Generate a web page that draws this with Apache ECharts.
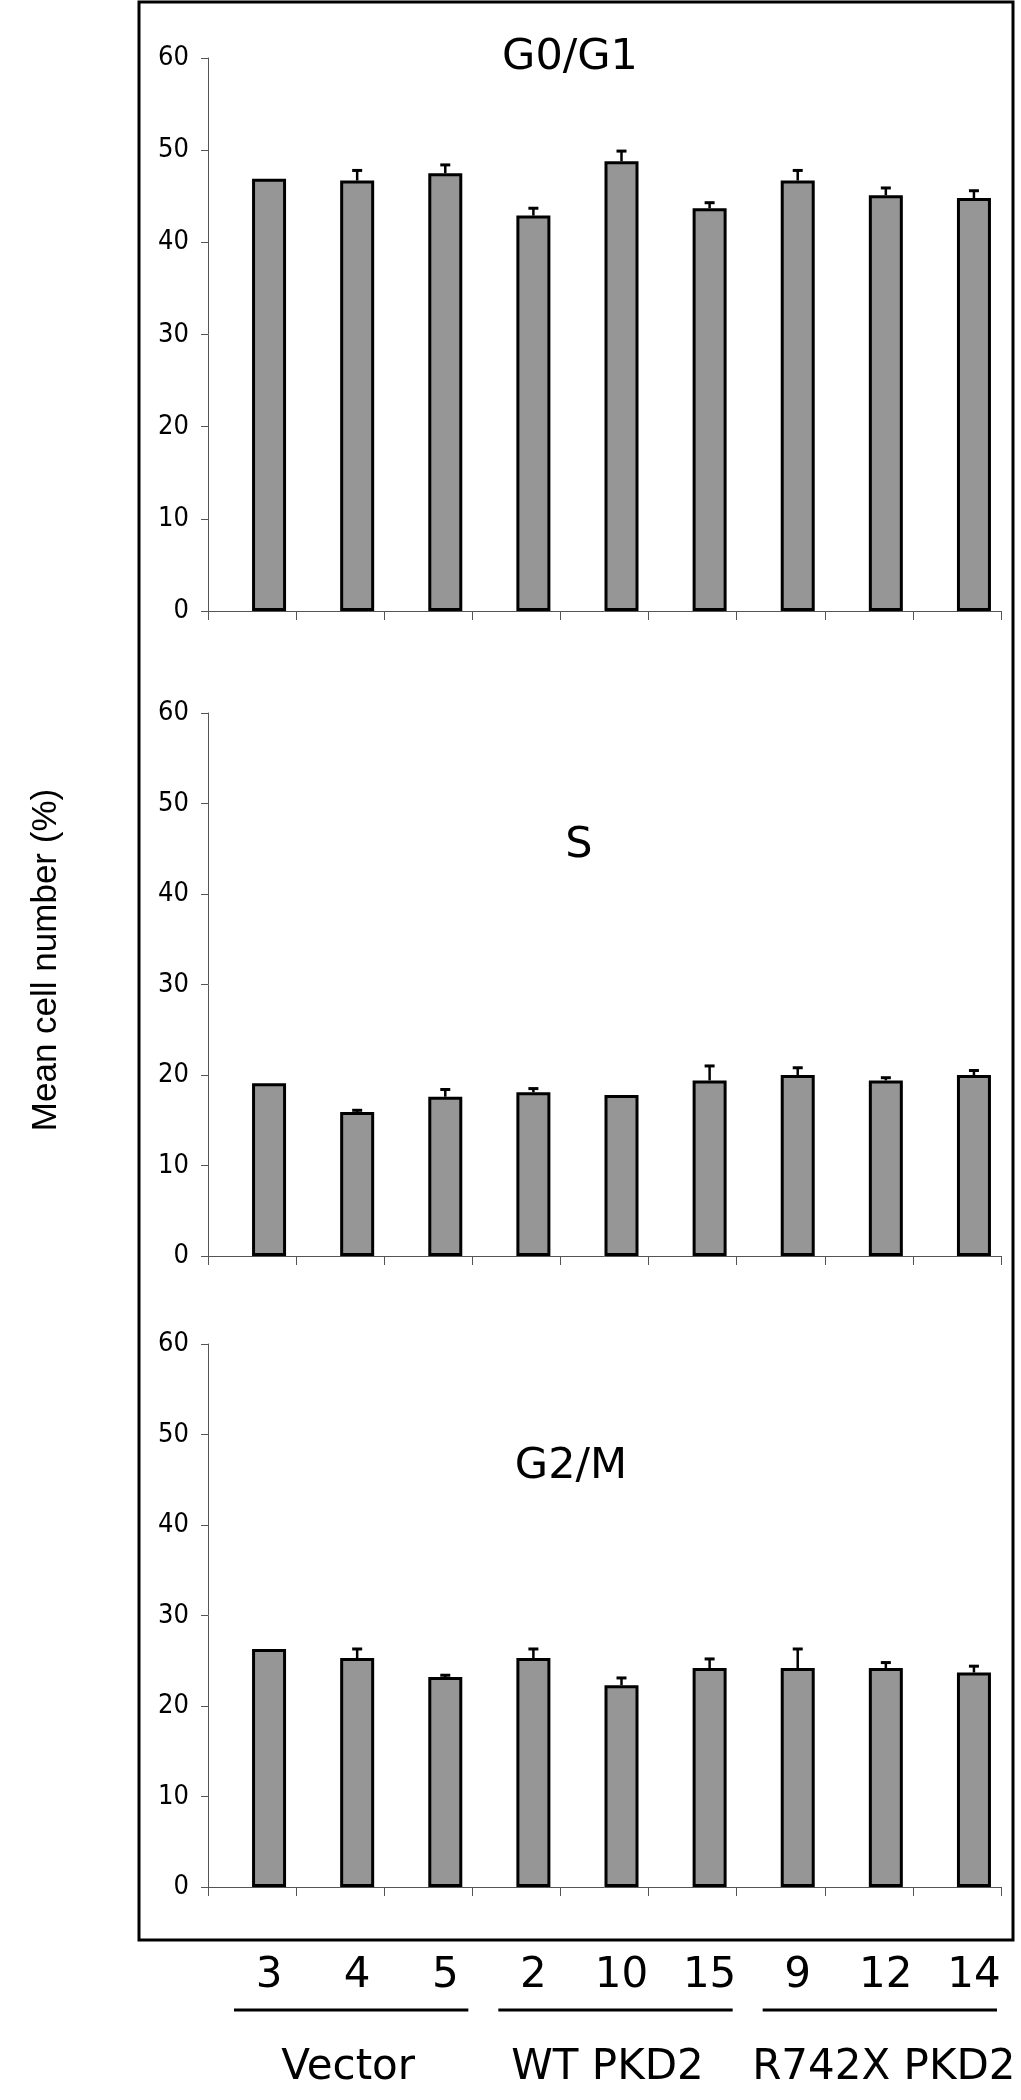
<!DOCTYPE html>
<html>
<head>
<meta charset="utf-8">
<script src="https://cdn.jsdelivr.net/npm/echarts@6/dist/echarts.min.js"></script>
<style>
  html, body { margin: 0; padding: 0; background: #fff; }
  #main { width: 1021px; height: 2100px; }
</style>
</head>
<body>
<div id="main"></div>
<script>
// clone numbers under the bars, and the three groups they belong to
const clones = ['3', '4', '5', '2', '10', '15', '9', '12', '14']
const groups = ['Vector', 'WT PKD2', 'R742X PKD2']
const groupSize = 3

// mean cell number (%) and upper error per clone
const g0g1Mean = [46.9, 46.7, 47.5, 42.9, 48.8, 43.7, 46.7, 45.1, 44.8]
const g0g1Err = [0, 1.1, 0.9, 0.8, 1.1, 0.6, 1.1, 0.8, 0.8]
const sMean = [19.1, 15.9, 17.6, 18.1, 17.8, 19.4, 20.0, 19.4, 20.0]
const sErr = [0, 0.2, 0.8, 0.4, 0, 1.6, 0.8, 0.3, 0.5]
const g2mMean = [26.3, 25.3, 23.2, 25.3, 22.3, 24.2, 24.2, 24.2, 23.7]
const g2mErr = [0, 1.0, 0.2, 1.0, 0.8, 1.0, 2.1, 0.6, 0.7]

const yMin = 0
const yMax = 60
const yStep = 10

const panels = [
  { title: 'G0/G1', mean: g0g1Mean, err: g0g1Err, top: 58, height: 553, tx: 570, ty: 58 },
  { title: 'S', mean: sMean, err: sErr, top: 713, height: 543, tx: 579, ty: 846 },
  { title: 'G2/M', mean: g2mMean, err: g2mErr, top: 1344, height: 543, tx: 571, ty: 1467 },
]
// small nudges of the group names relative to their underline
const groupNameShift = [-3, -8, 4]

const BAR_W = 34
const AXIS_COLOR = '#555'
const narrow = '"DejaVu Sans Condensed", "DejaVu Sans", sans-serif'
const plain = '"DejaVu Sans", sans-serif'

const grid = []
const xAxis = []
const yAxis = []
const series = []

panels.forEach((p, k) => {
  grid.push({ left: 208, right: 20, top: p.top, height: p.height })
  xAxis.push({
    type: 'category',
    gridIndex: k,
    data: clones,
    axisLine: { lineStyle: { color: AXIS_COLOR, width: 1 } },
    axisTick: { show: true, length: 9, lineStyle: { color: AXIS_COLOR } },
    axisLabel: { show: false },
  })
  yAxis.push({
    type: 'value',
    gridIndex: k,
    min: yMin,
    max: yMax,
    interval: yStep,
    axisLine: { show: true, lineStyle: { color: AXIS_COLOR, width: 1 } },
    axisTick: { show: true, length: 7, lineStyle: { color: AXIS_COLOR } },
    splitLine: { show: false },
    axisLabel: { color: '#000', fontSize: 27, fontFamily: narrow, margin: 19 },
  })
  // empty series only to push the real bar to the right half of each band, as in the figure
  series.push({
    type: 'bar',
    xAxisIndex: k,
    yAxisIndex: k,
    data: clones.map(() => '-'),
    barWidth: BAR_W,
    barGap: '0%',
    silent: true,
  })
  series.push({
    type: 'bar',
    xAxisIndex: k,
    yAxisIndex: k,
    data: p.mean,
    barWidth: BAR_W,
    barGap: '0%',
    itemStyle: { color: '#969696', borderColor: '#000', borderWidth: 3 },
  })
  series.push({
    type: 'custom',
    xAxisIndex: k,
    yAxisIndex: k,
    z: 5,
    data: p.mean.map((m, i) => [i, m, m + p.err[i]]),
    renderItem: (params, api) => {
      const base = api.coord([api.value(0), api.value(1)])
      const top = api.coord([api.value(0), api.value(2)])
      const x = base[0] + BAR_W / 2
      if (base[1] - top[1] < 1) return { type: 'group', children: [] }
      return {
        type: 'group',
        children: [
          { type: 'line', shape: { x1: x, y1: base[1], x2: x, y2: top[1] }, style: { stroke: '#000', lineWidth: 2.5 } },
          { type: 'line', shape: { x1: x - 5, y1: top[1], x2: x + 5, y2: top[1] }, style: { stroke: '#000', lineWidth: 3 } },
        ],
      }
    },
  })
})

// clone numbers below the frame, shifted like the bars
xAxis.push({
  type: 'category',
  gridIndex: 2,
  position: 'bottom',
  data: clones,
  axisLine: { show: false },
  axisTick: { show: false },
  axisLabel: { color: '#000', fontSize: 42, fontFamily: plain, margin: 68, padding: [0, 0, 0, BAR_W] },
})

const chart = echarts.init(document.getElementById('main'))
chart.setOption({
  animation: false,
  backgroundColor: '#fff',
  grid,
  xAxis,
  yAxis,
  series,
})

// frame, titles, y name, group underlines and names
const graphic = [
  {
    type: 'rect',
    shape: { x: 139, y: 2, width: 874, height: 1938 },
    style: { fill: 'none', stroke: '#000', lineWidth: 3 },
    z: 10,
  },
  {
    type: 'text',
    x: 46,
    y: 960,
    rotation: Math.PI / 2,
    style: {
      text: 'Mean cell number (%)',
      font: '35px "Liberation Sans", Arial, sans-serif',
      fill: '#000',
      align: 'center',
      verticalAlign: 'middle',
    },
  },
]
panels.forEach((p) => {
  graphic.push({
    type: 'text',
    x: p.tx,
    y: p.ty,
    style: { text: p.title, font: '43px ' + plain, fill: '#000', align: 'center', verticalAlign: 'middle' },
  })
})
const cx = (i) => chart.convertToPixel({ xAxisIndex: 2 }, clones[i])
const band = cx(1) - cx(0)
groups.forEach((name, g) => {
  const x1 = cx(g * groupSize) - band / 2 + 26
  const x2 = cx(g * groupSize + groupSize - 1) + band / 2 - 4
  graphic.push({
    type: 'line',
    shape: { x1, y1: 2010, x2, y2: 2010 },
    style: { stroke: '#000', lineWidth: 3 },
  })
  graphic.push({
    type: 'text',
    x: (x1 + x2) / 2 + groupNameShift[g],
    y: 2068,
    style: { text: name, font: '42px ' + plain, fill: '#000', align: 'center', verticalAlign: 'middle' },
  })
})
chart.setOption({ graphic })
</script>
</body>
</html>
